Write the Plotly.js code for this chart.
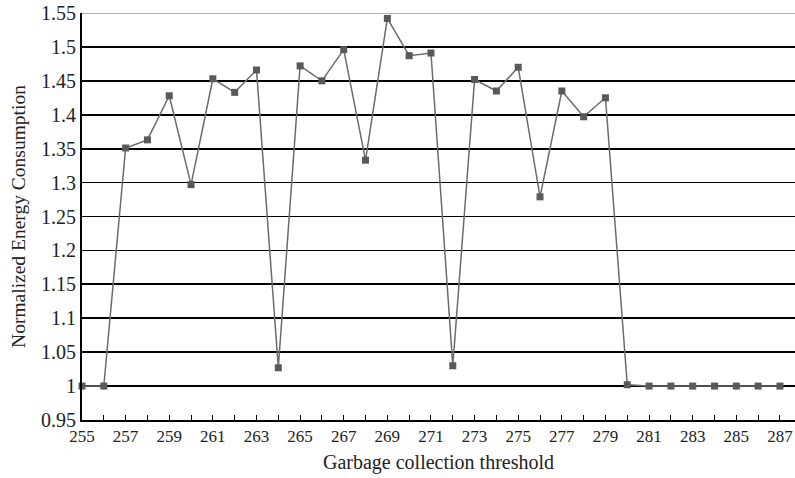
<!DOCTYPE html>
<html><head><meta charset="utf-8">
<script src="https://cdn.plot.ly/plotly-3.0.1.min.js"></script>
<style>html,body{margin:0;padding:0;background:#fff}#c{width:795px;height:478px}</style>
</head><body><div id="c"></div>
<script>
const thresholds = [255,256,257,258,259,260,261,262,263,264,265,266,267,268,269,270,271,272,273,274,275,276,277,278,279,280,281,282,283,284,285,286,287];
const energy = [1.0,1.0,1.351,1.363,1.428,1.297,1.453,1.433,1.466,1.027,1.472,1.450,1.496,1.333,1.542,1.487,1.491,1.030,1.452,1.435,1.470,1.279,1.435,1.397,1.425,1.002,1.0,1.0,1.0,1.0,1.0,1.0,1.0];
const yTicks = [0.95,1,1.05,1.1,1.15,1.2,1.25,1.3,1.35,1.4,1.45,1.5,1.55];
const yTickText = ['0.95','1','1.05','1.1','1.15','1.2','1.25','1.3','1.35','1.4','1.45','1.5','1.55'];

const font = 'Liberation Serif, Times New Roman, serif';
Plotly.newPlot('c', [{
  x: thresholds, y: energy, type: 'scatter', mode: 'lines+markers',
  line: {color: '#6b6b6b', width: 1.5},
  marker: {symbol: 'square', size: 7, color: '#595959'},
  cliponaxis: false
}], {
  width: 795, height: 478,
  margin: {l: 82, r: 0, t: 13, b: 58},
  paper_bgcolor: '#fff', plot_bgcolor: '#fff',
  showlegend: false,
  font: {family: font, color: '#222'},
  xaxis: {
    range: [255, 287.69], tick0: 255, dtick: 2,
    ticks: 'inside', ticklen: 5, tickcolor: '#000', tickwidth: 1,
    minor: {dtick: 1, tick0: 255, ticks: 'inside', ticklen: 5, tickcolor: '#000', showgrid: false},
    showgrid: false, zeroline: false,
    showline: true, linecolor: '#000', linewidth: 2,
    tickfont: {size: 17, family: font, color: '#222'},
    title: {text: 'Garbage collection threshold', font: {size: 20, family: font, color: '#222'}, standoff: 10}
  },
  yaxis: {
    range: [0.95, 1.55], tickvals: yTicks, ticktext: yTickText,
    ticks: '', showgrid: true, gridcolor: '#000', gridwidth: 1.8,
    zeroline: false, showline: true, linecolor: '#000', linewidth: 2,
    tickfont: {size: 20, family: font, color: '#222'},
    title: {text: 'Normalized Energy Consumption', font: {size: 19.5, family: font, color: '#222'}, standoff: 10}
  },
  shapes: [{type: 'line', xref: 'paper', yref: 'y', x0: 0, x1: 1, y0: 1.55, y1: 1.55, line: {color: '#999', width: 1.6}, layer: 'above'}]
}, {displayModeBar: false, staticPlot: true});
</script></body></html>
